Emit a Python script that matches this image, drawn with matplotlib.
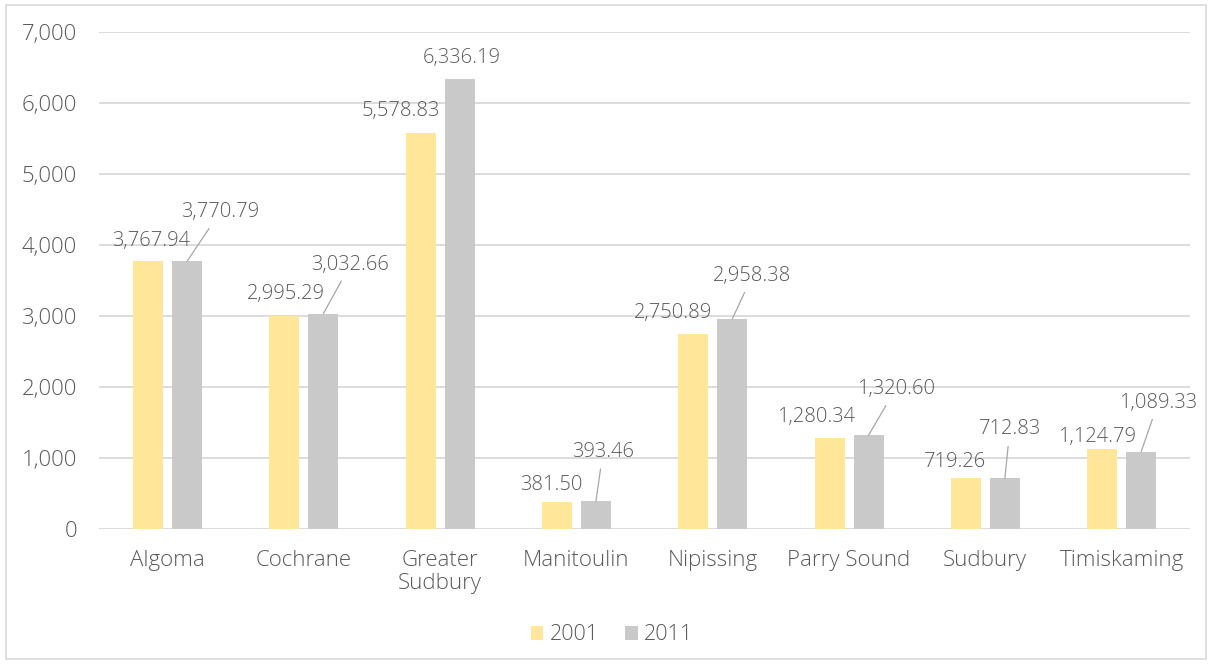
import numpy as np
import matplotlib.pyplot as plt
from matplotlib.patches import Rectangle

plt.rcParams['font.family'] = ['Open Sans', 'DejaVu Sans']
plt.rcParams['font.weight'] = 'light'

districts = ['Algoma', 'Cochrane', 'Greater\nSudbury', 'Manitoulin', 'Nipissing',
             'Parry Sound', 'Sudbury', 'Timiskaming']
values_2001 = [3767.94, 2995.29, 5578.83, 381.50, 2750.89, 1280.34, 719.26, 1124.79]
values_2011 = [3770.79, 3032.66, 6336.19, 393.46, 2958.38, 1320.60, 712.83, 1089.33]

# label offsets from the bar top, in pixels (dx, dy up)
off_2001 = [(3, 20), (2, 22), (-20, 22), (-6, 17), (-20, 21), (-14, 21), (-11, 16), (-5, 12)]
off_2011 = [(33, 49), (27, 49), (2, 21), (7, 49), (20, 43), (27, 46), (5, 49), (17, 49)]
leader_2011 = [True, True, False, True, True, True, True, True]

yellow = '#FFE699'
grey = '#C9C9C9'
text_col = '#595959'

fig = plt.figure(figsize=(12.12, 6.64), dpi=100)
ax = fig.add_axes([0.082, 0.2033, 0.8997, 0.7485])

x = np.arange(len(districts))
w = 0.22
shift = 0.143
ax.bar(x - shift, values_2001, w, color=yellow, label='2001', zorder=2)
ax.bar(x + shift, values_2011, w, color=grey, label='2011', zorder=2)

ax.set_xlim(-0.5, len(districts) - 0.5)
ax.set_ylim(0, 7000)
ax.set_yticks(range(0, 7001, 1000))
ax.set_yticklabels([f'{v:,}' for v in range(0, 7001, 1000)])
ax.set_xticks(x)
ax.set_xticklabels(districts, linespacing=1.15)
ax.yaxis.grid(True, color='#D9D9D9', lw=1.3, zorder=0)
ax.tick_params(axis='both', length=0, labelsize=16, labelcolor=text_col)
ax.tick_params(axis='y', pad=16)
ax.tick_params(axis='x', pad=15)
for s in ax.spines.values():
    s.set_visible(False)

for i in range(len(districts)):
    dx, dy = off_2001[i]
    ax.annotate(f'{values_2001[i]:,.2f}', (x[i] - shift, values_2001[i]),
                xytext=(dx, dy), textcoords='offset pixels',
                ha='center', va='center', fontsize=14.5, color=text_col, zorder=3)
    dx, dy = off_2011[i]
    arrow = dict(arrowstyle='-', color='#A6A6A6', lw=0.9, shrinkA=3, shrinkB=0) \
        if leader_2011[i] else None
    ax.annotate(f'{values_2011[i]:,.2f}', (x[i] + shift, values_2011[i]),
                xytext=(dx, dy), textcoords='offset pixels',
                ha='center', va='center', fontsize=14.5, color=text_col,
                arrowprops=arrow, zorder=3)

leg = fig.legend(loc='center', bbox_to_anchor=(0.505, 0.044), ncol=2, frameon=False,
                 fontsize=15.5, handlelength=0.6, handleheight=0.6,
                 handletextpad=0.3, columnspacing=1.2)
for t in leg.get_texts():
    t.set_color(text_col)

fig.patches.append(Rectangle((0.005, 0.008), 0.99, 0.984, transform=fig.transFigure,
                             fill=False, edgecolor='#D9D9D9', lw=1.2))

fig.savefig('out.png', dpi=100)
